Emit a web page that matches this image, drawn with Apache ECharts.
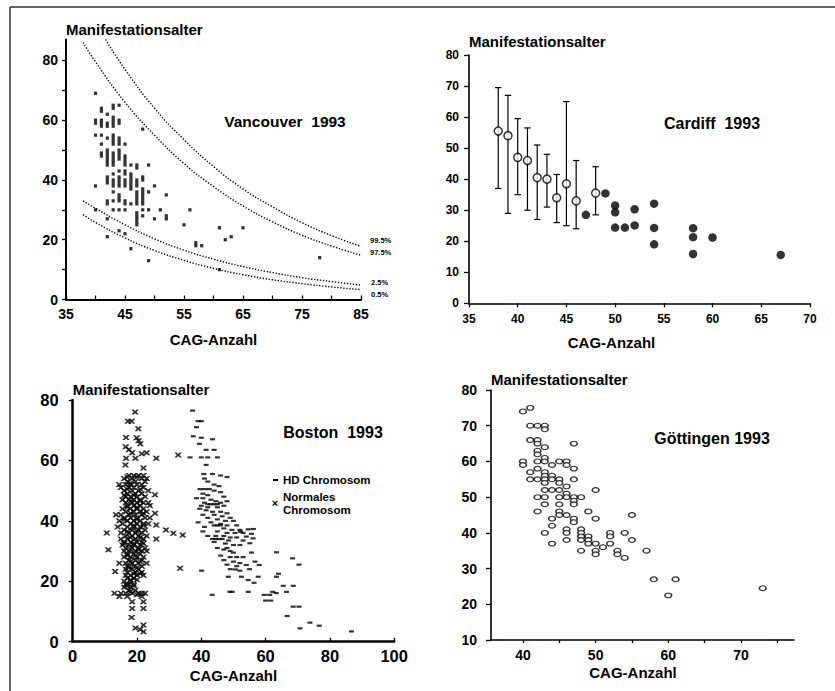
<!DOCTYPE html>
<html><head><meta charset="utf-8">
<script src="https://cdn.jsdelivr.net/npm/echarts@6/dist/echarts.min.js"></script>
<style>html,body{margin:0;padding:0;background:#fff}#c{width:835px;height:691px}</style>
</head><body><div id="c"></div>
<script>
// ---------------- DATA ----------------
// Vancouver 1993: [CAG count, [ages of onset]]
var vancouverColumns = [
  [40,[69,60,59,55,38,30]],
  [41,[64,63,60,59,58,55,52,49,48]],
  [42,[62,59,58,54,50,49,48,47,46,45,41,40,39,33,32,27,21]],
  [43,[65,64,61,60,59,58,55,54,53,52,49,48,47,46,45,42,40,39,38,36,33,30]],
  [44,[65,60,59,54,53,52,50,49,48,47,43,41,40,39,38,35,34,33,30,23]],
  [45,[52,48,47,46,45,43,42,40,39,38,33,32,30,22]],
  [46,[45,42,41,40,39,38,37,32,17]],
  [47,[45,44,40,39,38,36,35,34,33,32,29,28,27,26,25]],
  [48,[57,41,40,37,36,35,34,33,32,30,28]],
  [49,[45,36,30,13]],
  [50,[38,27]],
  [51,[30]],
  [52,[35,28,27]],
  [55,[25]],
  [56,[30]],
  [57,[18,19]],
  [58,[18]],
  [61,[24,10]],
  [62,[20]],
  [63,[21]],
  [65,[24]],
  [78,[14]]
];
var vancouverP995 = [[41.7,87],[45,77],[50,64],[55,53.5],[60,44.5],[65,37],[70,31],[75,25.7],[80,21.4],[85,17.8]];
var vancouverP975 = [[37.9,86],[40,79.5],[45,66],[50,55],[55,45.5],[60,37.8],[65,31.3],[70,26],[75,21.5],[80,17.9],[85,14.8]];
var vancouverP25  = [[37.9,33],[40,30.5],[45,25],[50,20.3],[55,16.5],[60,13.5],[65,11],[70,9],[75,7.3],[80,6],[85,4.8]];
var vancouverP05  = [[37.9,28.4],[40,25.8],[45,20.6],[50,16.4],[55,13.1],[60,10.4],[65,8.3],[70,6.6],[75,5.3],[80,4.2],[85,3.3]];
var vancouverXLabels = [35,45,55,65,75,85];
var vancouverXTicks = [35,40,45,50,55,60,65,70,75,80,85];
var vancouverYLabels = [0,20,40,60,80];
var vancouverYTicks = [0,10,20,30,40,50,60,70,80];

// Cardiff 1993
var cardiffMeanCag  = [38,39,40,41,42,43,44,45,46,48];
var cardiffMeanAge  = [55.5,54,47,46,40.5,40,34,38.5,33,35.5];
var cardiffLow      = [37,29,35,30,27,31,26,25,24,28.5];
var cardiffHigh     = [69.5,67,59.5,56.5,51,48,41.5,65,46,44];
var cardiffSingleCag = [47,49,50,50,50,51,52,52,54,54,54,58,58,58,60,67];
var cardiffSingleAge = [28.5,35.4,31.5,29.3,24.4,24.4,30.3,25.1,32.1,24.3,19,24.2,21.3,15.9,21.2,15.6];

// Boston 1993: [CAG count, age of onset]
var bostonNormal = [
[19.4,76],[17.2,73],[18.3,73],[20.4,70.5],[16.6,67.6],[19.9,67.5],[20.5,66.5],[21,65.5],[16.5,64.5],[17.5,63.5],[18.5,62.5],[21.5,62.2],[23,62.5],[16.6,60.7],[19.5,60.7],[26,60.7],[32.8,61.8],[16.4,58.5],[22,57.5],
[17.5,55],[19,55],[20.5,55],[22,55],[16,54],[18.5,54],[21.5,54],[23,54],[17,53],[19.5,53],[22.5,53],
[14.5,52],[16.5,52],[18,52],[20,52],[21.5,52],[15,51],[17.5,51],[19,51],[22,51],[16,50],[18.5,50],[20.5,50],[23.5,50],
[17,49],[19.5,49],[21.5,49],[16.5,48],[18,48],[20,48],[22.5,48],[25.6,48.6],[15.5,47],[17.5,47],[19,47],[21,47],
[16.5,46],[18.5,46],[20,46],[22,46],[23.5,46],[17,45],[19,45],[21,45],[24,45],[15.5,44],[18,44],[20,44],[22,44],
[16.5,43],[19,43],[21,43],[23,43],[13.5,42],[15,42],[17.5,42],[19.5,42],[21.5,42],[25.6,42.5],
[16,41],[18,41],[20,41],[22.5,41],[24,41],[14.5,40],[17,40],[19,40],[21,40],[15.5,39],[18,39],[20,39],[22,39],[23.5,39],
[14,38],[17,38],[19,38],[21,38],[26,38.6],[16,37],[18.5,37],[20.5,37],[22.5,37],[29,37],
[10.6,36],[15,36],[17.5,36],[19.5,36],[21.5,36],[31.3,35.9],[16.5,35],[18.5,35],[20.5,35],[23,35],[34.2,35.3],
[15,34],[17,34],[19.5,34],[22,34],[26,34],[16,33],[18,33],[20,33],[21.5,33],[15.5,32],[17.5,32],[19,32],[21,32],
[16.5,31],[18.5,31],[20.5,31],[22.5,31],[11.1,30.4],[16,30],[17.5,30],[19.5,30],[21.5,30],[23,30],
[17,29],[19,29],[21,29],[16,28],[18,28],[20,28],[22,28],[17.5,27],[19.5,27],[21.5,27],
[14.5,26],[16.5,26],[18.5,26],[20.5,26],[23,26],[17,25],[19,25],[21.5,25],[16.5,24],[18.5,24],[20.5,24],[33.4,24.3],
[13.2,23.2],[17,23],[19.5,23],[21.5,23],[16.5,22],[18,22],[20,22],[22,22],[17,21],[19,21],[16,20],[18,20],
[16.5,19],[17.5,19],[19,19],[16,18],[18,18],[17.5,17],[19.5,17],
[13,16],[15,16],[16.5,16],[18.5,16],[20.5,16],[21.5,16],[22.5,16],[14.5,15],[17,15],[21.5,15],
[18.5,13.2],[22,13.2],[18.5,11],[22,11],[18.3,8],[22,5.5],[19.5,4.5],[21,4],[22,3.3],
[17,54.5],[20,54.5],[18,52.5],[21,50.5],[17,50.5],[19,48.5],[16,48.5],[21,46.5],[18,46.5],[20,44.5],
[17,44.5],[22,42.5],[18,42.5],[20,40.5],[16,40.5],[19,38.5],[22,38.5],[17,36.5],[20,36.5],[18,34.5],
[21,34.5],[16,32.5],[19,32.5],[22,32.5],[18,30.5],[20.5,30.5],[17,28.5],[19.5,28.5],[21,26.5],[18,26.5],
[20,24.5],[17.5,24.5],[19,22.5],[21,22.5],[18,20.5],[20,20.5],[17,18.5],[19,18.5],[18,16.5],[20,15.5]
];
var bostonHD = [
[37.3,76.5],[39,73],[40,73],[38.5,71],[37.5,68],[40,67.5],[43.5,67],[39.4,65.5],[41.5,63.5],[44,63.5],
[36.5,61],[40,61],[42,61],[45,61],[41.5,58.5],[40.8,55.5],[43.5,55.5],[46,55],[48,54.5],[41,54],
[42,53],[44,52],[45.5,51.5],[39.6,50.5],[41,50.5],[42.5,50.5],[44,50],[46,49.5],[40.5,49],[42,48.5],
[47,48],[38.5,47.5],[40.5,47.5],[43,47],[44.5,46.5],[46,46],[48,46.5],[41,46],[42,45.5],[43,45.5],[44,45.5],[45,45.5],
[40,45],[47,45],[42,44.5],[45,44.5],[39.5,44],[41.5,43.5],[43.5,43],[46,43],[48,42.5],[40.5,42],
[44,42],[46.5,41.5],[49,41],[42,41],[45,40.5],[47.5,40],[50,40],[39,39.5],[43,39.5],[46,39],
[44,38.5],[45,38.5],[46,38.5],[48,38.5],[51,38.5],[41,38],[47,37.5],[49.5,37],[52,37],[54.6,37.2],[56.2,37.3],
[40.5,36.5],[45,36.5],[48,36],[50.5,36],[52.2,36.4],[53,36],[55.6,35.7],[42,35],[44.5,35],[47,35],[49,34.5],[51,34.5],[54,34.8],
[56.1,34.2],[43.5,34],[44.5,34],[45.5,34],[46.5,34],[48.5,33.5],[53,33.5],[44,33],[55.1,32.6],[47.5,32.5],[50,32],[52,32],
[45,31],[48,31],[47,30.5],[49,30],[50,29.5],[55.6,29.5],[63.4,29.6],[46,28.5],[49,28],[51,28],[53,28],
[47,27],[68.4,27.6],[50,26.5],[52,26],[56.7,26.5],[48,25.5],[51,25],[54,25.4],[58,25.4],[70.4,25.5],
[49,24],[50.6,23.9],[52,23.5],[55,24],[40.1,23.5],[48.4,21.5],[52.5,21.5],[57.7,21.5],[63.4,21.5],[64,22.5],
[54.6,20.4],[56.4,19.5],[65.5,18.5],[68.6,18.5],[62.2,16.5],[63.3,16.1],[43.4,15.5],[48.9,16.5],[49.6,16.5],[54.6,16.5],
[61.3,15.5],[59.6,15.5],[60,13.6],[61.6,13.6],[66.5,16.5],[68.6,11.6],[70.4,11.6],[66.7,8.5],[70.7,4.4],[73.8,6.3],[76.7,5.3],[86.7,3.4]
];

// Göttingen 1993: [CAG count, age of onset]
var goettingen = [
[40,74],[41,75],[41,70],[42,70],[43,70],[43,69],[41,66],[42,66],[42,65],[43,64],[47,65],[42,63],[42,62],[43,61],
[40,60],[40,59],[42,60],[43,60],[45,60],[46,60],[46,59],[44,59],[42,58],[47,58],[41,57],[43,57],[43,56],[44,56],
[41,55],[42,55],[43,55],[43,54],[44,55],[45,55],[45,54],[47,55],[46,53],[43,52],[44,52],[45,52],[50,52],[46,51],
[42,50],[43,50],[45,50],[46,50],[47,50],[48,50],[47,49],[47,48],[43,48],[45,48],[42,46],[45,46],[45,45],[49,46],
[46,45],[55,45],[44,44],[47,44],[47,43],[50,44],[44,42],[46,41],[46,40],[48,41],[48,40],[48,39],[48,38],[43,40],
[52,40],[52,39],[54,40],[49,39],[49,38],[49,37],[46,38],[55,38],[44,37],[50,37],[52,37],[51,36],[48,35],[50,35],
[50,34],[53,35],[53,34],[57,35],[54,33],[58,27],[61,27],[60,22.5],[73,24.5]
];
var goettingenXLabels = [40,50,60,70];
var goettingenXTicks = [40,45,50,55,60,65,70,75];

// ---------------- CHART ----------------
var FONT = '"Liberation Sans", Arial, Helvetica, sans-serif';
var vancouverPoints = [];
vancouverColumns.forEach(function (c) { c[1].forEach(function (a) { vancouverPoints.push([c[0], a]); }); });

function lbl(size, margin, extra) {
  var o = {color:'#000', fontFamily:FONT, fontWeight:'bold', fontSize:size, margin:margin};
  for (var k in extra) o[k] = extra[k];
  return o;
}
function line(w) { return {show:true, onZero:false, lineStyle:{color:'#000', width:w}}; }
function tick(inside, len, extra) {
  var o = {show:true, inside:inside, length:len, lineStyle:{color:'#000', width:1.3}};
  for (var k in extra) o[k] = extra[k];
  return o;
}
function nameStyle(size, extra) {
  var o = {color:'#000', fontFamily:FONT, fontWeight:'bold', fontSize:size};
  for (var k in extra) o[k] = extra[k];
  return o;
}
var yName = 'Manifestationsalter', xName = 'CAG-Anzahl';
var xMark = 'path://M0,0 L3,0 L5,1.7 L7,0 L10,0 L6.9,3 L10,6 L7,6 L5,4.3 L3,6 L0,6 L3.1,3 Z';
var ellipse = 'path://M0,5 A5,3.6 0 1,1 10,5 A5,3.6 0 1,1 0,5 Z';

function pctLine(data) {
  return {type:'line', xAxisIndex:0, yAxisIndex:0, data:data, smooth:true, showSymbol:false, silent:true,
    lineStyle:{color:'#000', width:1.4, type:[1.3,1.7]}, z:2};
}

var option = {
  animation:false,
  backgroundColor:'#fff',
  grid:[
    {left:66, top:39.5, width:295, height:260},
    {left:469, top:55, width:341, height:248.3},
    {left:72.7, top:400, width:321.5, height:241.7},
    {left:491, top:390, width:303, height:250}
  ],
  xAxis:[
    {gridIndex:0, type:'value', min:35, max:85, interval:10, splitLine:{show:false}, axisLine:line(2),
     axisTick:tick(true, 4, {customValues:vancouverXTicks}), axisLabel:lbl(14, 7, {customValues:vancouverXLabels}),
     name:xName, nameLocation:'middle', nameGap:32, nameTextStyle:nameStyle(15)},
    {gridIndex:1, type:'value', min:35, max:70, interval:5, splitLine:{show:false}, axisLine:line(1.6),
     axisTick:tick(false, 4), axisLabel:lbl(12, 10),
     name:xName, nameLocation:'middle', nameGap:32, nameTextStyle:nameStyle(15, {padding:[0,56,0,0]})},
    {gridIndex:2, type:'value', min:0, max:100, interval:20, splitLine:{show:false}, axisLine:line(2.5),
     axisTick:tick(true, 4), axisLabel:lbl(16.5, 6),
     name:xName, nameLocation:'middle', nameGap:26, nameTextStyle:nameStyle(15)},
    {gridIndex:3, type:'value', min:35.6, max:77.3, splitLine:{show:false}, axisLine:line(1.6),
     axisTick:tick(false, 3, {customValues:goettingenXTicks}), axisLabel:lbl(14, 8, {customValues:goettingenXLabels}),
     name:xName, nameLocation:'middle', nameGap:25, nameTextStyle:nameStyle(15, {padding:[0,19,0,0]})}
  ],
  yAxis:[
    {gridIndex:0, type:'value', min:0, max:87, splitLine:{show:false}, axisLine:line(2),
     axisTick:tick(false, 4, {customValues:vancouverYTicks}), axisLabel:lbl(14, 8, {customValues:vancouverYLabels}),
     name:yName, nameLocation:'end', nameGap:3, nameTextStyle:nameStyle(15, {align:'left', verticalAlign:'bottom'})},
    {gridIndex:1, type:'value', min:0, max:80, interval:10, splitLine:{show:false}, axisLine:line(1.6),
     axisTick:tick(false, 5), axisLabel:lbl(12, 10),
     name:yName, nameLocation:'end', nameGap:6, nameTextStyle:nameStyle(15, {align:'left', verticalAlign:'bottom'})},
    {gridIndex:2, type:'value', min:0, max:80, interval:20, splitLine:{show:false}, axisLine:line(2.5),
     axisTick:tick(false, 4), axisLabel:lbl(16.5, 14),
     name:yName, nameLocation:'end', nameGap:3, nameTextStyle:nameStyle(15, {align:'left', verticalAlign:'bottom'})},
    {gridIndex:3, type:'value', min:10, max:80, interval:10, splitLine:{show:false}, axisLine:line(1.6),
     axisTick:tick(false, 5), axisLabel:lbl(14, 14),
     name:yName, nameLocation:'end', nameGap:3, nameTextStyle:nameStyle(15, {align:'left', verticalAlign:'bottom'})}
  ],
  series:[
    // Vancouver
    pctLine(vancouverP995), pctLine(vancouverP975), pctLine(vancouverP25), pctLine(vancouverP05),
    {type:'scatter', xAxisIndex:0, yAxisIndex:0, data:vancouverPoints, symbol:'rect', symbolSize:[3.2,3.3],
     itemStyle:{color:'#000'}, z:3},
    // Cardiff error bars
    {type:'custom', xAxisIndex:1, yAxisIndex:1, coordinateSystem:'cartesian2d',
     data:cardiffMeanCag.map(function (c, i) { return [c, cardiffLow[i], cardiffHigh[i]]; }),
     encode:{x:0, y:[1,2]}, z:2,
     renderItem:function (params, api) {
       var x = api.value(0), top = api.coord([x, api.value(2)]), bot = api.coord([x, api.value(1)]);
       var w = 3.2, st = {stroke:'#000', lineWidth:1.2};
       return {type:'group', children:[
         {type:'line', shape:{x1:top[0], y1:top[1], x2:bot[0], y2:bot[1]}, style:st},
         {type:'line', shape:{x1:top[0]-w, y1:top[1], x2:top[0]+w, y2:top[1]}, style:st},
         {type:'line', shape:{x1:bot[0]-w, y1:bot[1], x2:bot[0]+w, y2:bot[1]}, style:st}
       ]};
     }},
    {type:'scatter', xAxisIndex:1, yAxisIndex:1, symbol:'circle', symbolSize:8,
     data:cardiffMeanCag.map(function (c, i) { return [c, cardiffMeanAge[i]]; }),
     itemStyle:{color:'#fff', borderColor:'#000', borderWidth:1.5}, z:4},
    {type:'scatter', xAxisIndex:1, yAxisIndex:1, symbol:'circle', symbolSize:8.5,
     data:cardiffSingleCag.map(function (c, i) { return [c, cardiffSingleAge[i]]; }),
     itemStyle:{color:'#000'}, z:4},
    // Boston
    {type:'scatter', xAxisIndex:2, yAxisIndex:2, data:bostonNormal, symbol:xMark, symbolSize:[7.5,5],
     symbolKeepAspect:false, itemStyle:{color:'#000'}, z:3},
    {type:'scatter', xAxisIndex:2, yAxisIndex:2, data:bostonHD, symbol:'rect', symbolSize:[5,2.2],
     itemStyle:{color:'#000'}, z:3},
    // Göttingen
    {type:'scatter', xAxisIndex:3, yAxisIndex:3, data:goettingen, symbol:ellipse, symbolSize:[6.8,4.8],
     symbolKeepAspect:false, itemStyle:{color:'#fff', borderColor:'#000', borderWidth:1.3}, z:3}
  ],
  graphic:[
    {type:'line', shape:{x1:10, y1:7, x2:835, y2:7}, style:{stroke:'#333', lineWidth:1.5}, silent:true},
    {type:'line', shape:{x1:10, y1:7, x2:10, y2:691}, style:{stroke:'#333', lineWidth:1.5}, silent:true},
    {type:'text', x:285, y:121, style:{text:'Vancouver  1993', font:'bold 15.5px '+FONT, align:'center', verticalAlign:'middle', fill:'#000'}},
    {type:'text', x:712, y:123, style:{text:'Cardiff  1993', font:'bold 16px '+FONT, align:'center', verticalAlign:'middle', fill:'#000'}},
    {type:'text', x:333, y:432, style:{text:'Boston  1993', font:'bold 16px '+FONT, align:'center', verticalAlign:'middle', fill:'#000'}},
    {type:'text', x:712, y:438, style:{text:'Göttingen 1993', font:'bold 16px '+FONT, align:'center', verticalAlign:'middle', fill:'#000'}},
    {type:'text', x:370, y:240, style:{text:'99.5%', font:'bold 7.5px '+FONT, align:'left', verticalAlign:'middle', fill:'#000'}},
    {type:'text', x:370, y:252, style:{text:'97.5%', font:'bold 7.5px '+FONT, align:'left', verticalAlign:'middle', fill:'#000'}},
    {type:'text', x:371, y:282, style:{text:'2.5%', font:'bold 7.5px '+FONT, align:'left', verticalAlign:'middle', fill:'#000'}},
    {type:'text', x:371, y:294, style:{text:'0.5%', font:'bold 7.5px '+FONT, align:'left', verticalAlign:'middle', fill:'#000'}},
    {type:'rect', shape:{x:273, y:479, width:5, height:2}, style:{fill:'#000'}},
    {type:'text', x:283, y:480, style:{text:'HD Chromosom', font:'bold 11.5px '+FONT, align:'left', verticalAlign:'middle', fill:'#000'}},
    {type:'text', x:275, y:503, style:{text:'×', font:'bold 11px '+FONT, align:'center', verticalAlign:'middle', fill:'#000'}},
    {type:'text', x:283, y:497, style:{text:'Normales', font:'bold 11.5px '+FONT, align:'left', verticalAlign:'middle', fill:'#000'}},
    {type:'text', x:283, y:510, style:{text:'Chromosom', font:'bold 11.5px '+FONT, align:'left', verticalAlign:'middle', fill:'#000'}}
  ]
};
var chart = echarts.init(document.getElementById('c'), null, {renderer:'svg'});
chart.setOption(option);
</script></body></html>
